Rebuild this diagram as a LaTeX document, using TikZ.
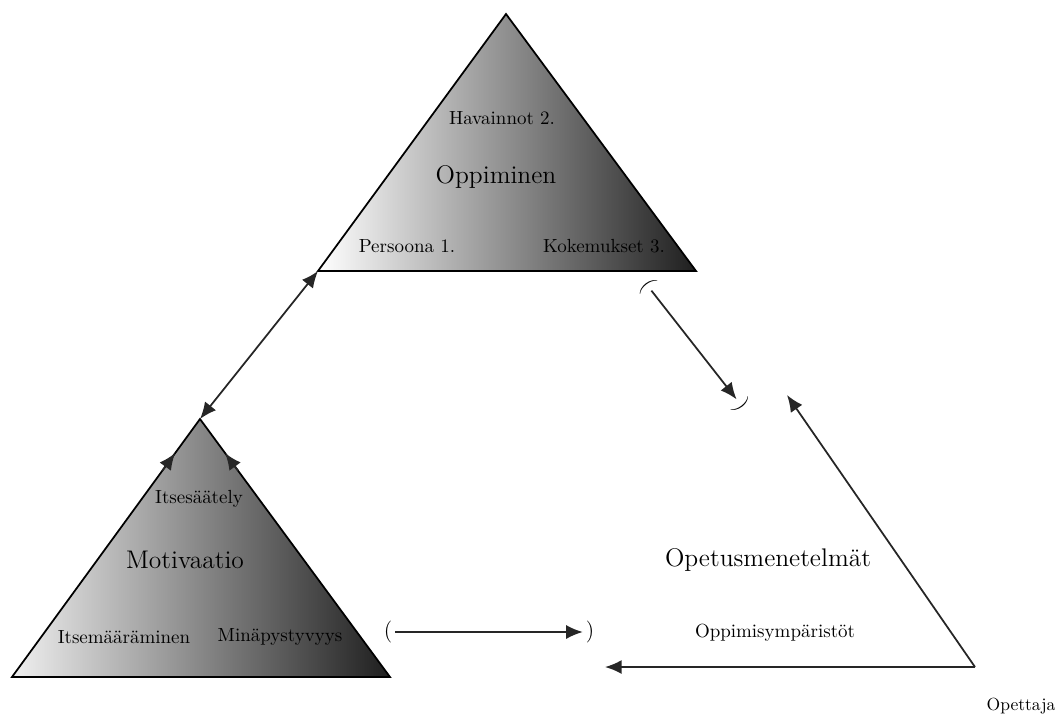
\documentclass[tikz,border=0pt]{standalone}
\usepackage{tikz}
\usetikzlibrary{arrows.meta,calc}
\begin{document}
\begin{tikzpicture}[x=0.02cm,y=-0.02cm,
  tri/.style={draw=black, line width=1pt, left color=white, right color=black!88},
  big/.style={font=\fontsize{14.5}{17}\selectfont},
  small/.style={font=\fontsize{10.8}{13}\selectfont},
  arr/.style={line width=1pt, draw=black!85, -{Latex[length=9.5pt,width=8pt]}},
  dbl/.style={line width=1pt, draw=black!85, {Latex[length=9.5pt,width=8pt]}-{Latex[length=9.5pt,width=8pt]}},
  paren/.style={inner sep=1.5pt, font=\fontsize{12.5}{15}\selectfont}]
  \useasboundingbox (0,0) rectangle (1064,718);
  \coordinate (opp-t) at (506,14);
  \coordinate (opp-l) at (318,271);
  \coordinate (opp-r) at (696,271);
  \coordinate (mot-t) at (200,419);
  \coordinate (mot-l) at (12,677);
  \coordinate (mot-r) at (390,677);
  \coordinate (ope) at (975,667);
  \coordinate (ope-t) at (787,395);
  \coordinate (ope-l) at (605,667);

  \shade[tri] (opp-t) -- (opp-r) -- (opp-l) -- cycle;
  \shade[tri, left color=black!6] (mot-t) -- (mot-r) -- (mot-l) -- cycle;

  \node[small] (hav) at (502,118) {Havainnot 2.};
  \node[big] (opp) at (496,177) {Oppiminen};
  \node[small] (per) at (407,246) {Persoona 1.};
  \node[small] (kok) at (604,246) {Kokemukset 3.};

  \node[small] (its) at (199,499) {Itsesäätely};
  \node[big] (mot) at (185,560) {Motivaatio};
  \node[small] (itm) at (124,637) {Itsemääräminen};
  \node[small] (min) at (280,637) {Minäpystyvyys};

  \node[big] (opm) at (768,560) {Opetusmenetelmät};
  \node[small] (ops) at (775,633) {Oppimisympäristöt};
  \node[small, font=\fontsize{10}{12}\selectfont] (opt) at (1021,706) {Opettaja};

  \draw[dbl] (mot-t) -- (opp-l);
  \draw[arr] ($(mot-l)!0.80!(mot-t)$) -- ($(mot-l)!0.868!(mot-t)$);
  \draw[arr] ($(mot-r)!0.80!(mot-t)$) -- ($(mot-r)!0.868!(mot-t)$);

  \node[paren, rotate=-52.7] (pa) at (647,285) {(};
  \node[paren, rotate=-52.7] (pb) at (741,405) {)};
  \draw[arr] (pa) -- (pb);

  \node[paren] (pl) at (388,632) {(};
  \node[paren] (pr) at (590,632) {)};
  \draw[arr] (pl) -- (pr);

  \draw[arr] (ope) -- (ope-t);
  \draw[arr] (ope) -- (ope-l);
\end{tikzpicture}
\end{document}
